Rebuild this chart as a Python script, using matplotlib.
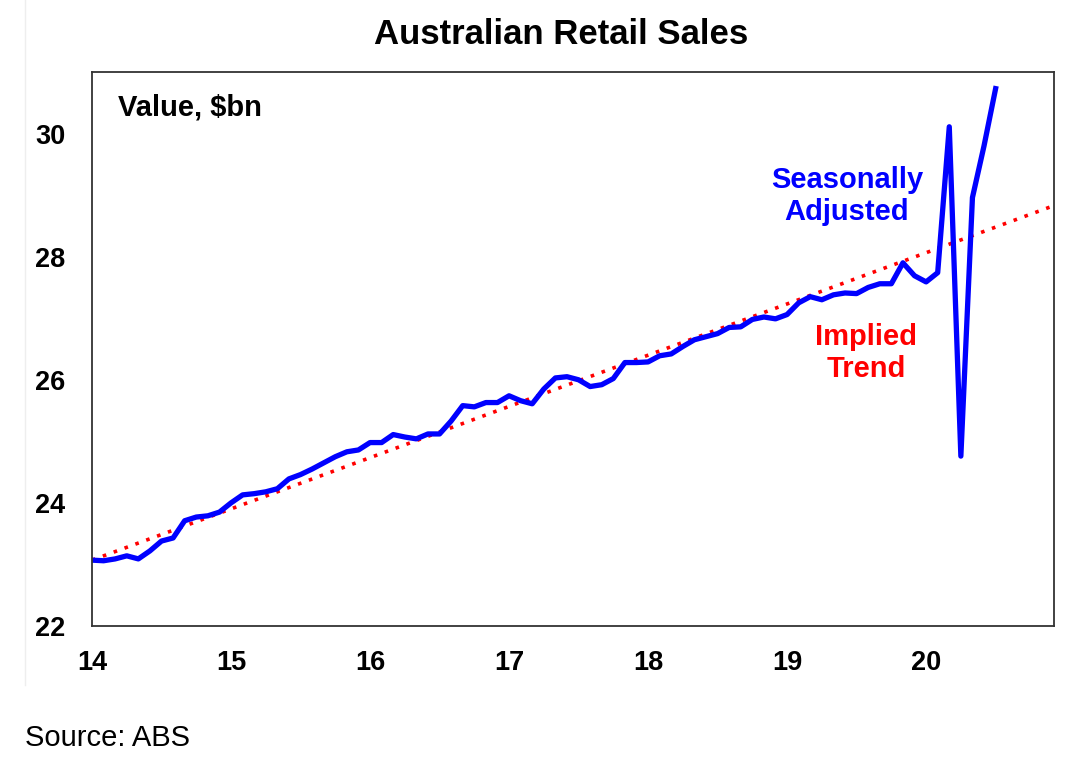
import numpy as np
import matplotlib
matplotlib.use("Agg")
import matplotlib.pyplot as plt
from matplotlib.lines import Line2D

plt.rcParams["font.family"] = ["Liberation Sans", "DejaVu Sans"]

# monthly retail sales, Jan 2014 - Jul 2020 ($bn, seasonally adjusted)
sales = [
    23.07, 23.06, 23.09, 23.14, 23.09, 23.22, 23.38, 23.43, 23.71, 23.77, 23.79, 23.85,
    24.00, 24.13, 24.15, 24.18, 24.23, 24.39, 24.46, 24.55, 24.65, 24.75, 24.83, 24.86,
    24.98, 24.98, 25.11, 25.07, 25.04, 25.12, 25.12, 25.33, 25.58, 25.56, 25.63, 25.63,
    25.74, 25.66, 25.61, 25.85, 26.03, 26.05, 26.00, 25.89, 25.92, 26.02, 26.28, 26.28,
    26.29, 26.39, 26.42, 26.54, 26.65, 26.70, 26.75, 26.85, 26.86, 26.98, 27.02, 26.99,
    27.06, 27.25, 27.35, 27.30, 27.38, 27.41, 27.40, 27.50, 27.56, 27.56, 27.90, 27.69,
    27.59, 27.74, 30.11, 24.76, 28.96, 29.80, 30.73,
]
start_year = 14

# implied trend: start and end of the straight line
trend_years = [14.0, 20.92]
trend_values = [23.07, 28.83]

year_ticks = [14, 15, 16, 17, 18, 19, 20]
value_ticks = [22, 24, 26, 28, 30]

x = start_year + np.arange(len(sales)) / 12

fig = plt.figure(figsize=(10.88, 7.76), dpi=100)
ax = fig.add_axes([92 / 1088, 1 - 626 / 776, (1054 - 92) / 1088, (626 - 72) / 776])

ax.plot(trend_years, trend_values, color="#ff0000", linestyle=(0, (1, 2.2)), linewidth=2.6)
ax.plot(x, sales, color="#0000ff", linewidth=3.8, solid_joinstyle="round")

ax.set_xlim(14, 20.92)
ax.set_ylim(22, 31)
ax.set_xticks(year_ticks)
ax.set_yticks(value_ticks)
ax.tick_params(length=0, labelsize=19.5)
ax.tick_params(axis="x", pad=17)
ax.tick_params(axis="y", pad=19)
for lab in ax.get_xticklabels() + ax.get_yticklabels():
    lab.set_fontweight("bold")
for s in ax.spines.values():
    s.set_color("#333333")
    s.set_linewidth(1.3)

ax.text(118 / 1088, 1 - 107 / 776, "Value, $bn", transform=fig.transFigure,
        fontsize=21, fontweight="bold", va="center", ha="left")
ax.text(847 / 1088, 1 - 196 / 776, "Seasonally\nAdjusted", transform=fig.transFigure,
        fontsize=21, fontweight="bold", color="#0000ff", ha="center", va="center",
        linespacing=1.2)
ax.text(866 / 1088, 1 - 353 / 776, "Implied\nTrend", transform=fig.transFigure,
        fontsize=21, fontweight="bold", color="#ff0000", ha="center", va="center",
        linespacing=1.2)

fig.text(561 / 1088, 1 - 35 / 776, "Australian Retail Sales", fontsize=25,
         fontweight="bold", ha="center", va="center")
fig.text(25 / 1088, 1 - 738 / 776, "Source: ABS", fontsize=21, ha="left", va="center")

# faint frame edge on the left
fig.add_artist(Line2D([25 / 1088, 25 / 1088], [1 - 685 / 776, 1], color="#eeeeee",
                      linewidth=1, transform=fig.transFigure))

plt.savefig("out.png", dpi=100)
